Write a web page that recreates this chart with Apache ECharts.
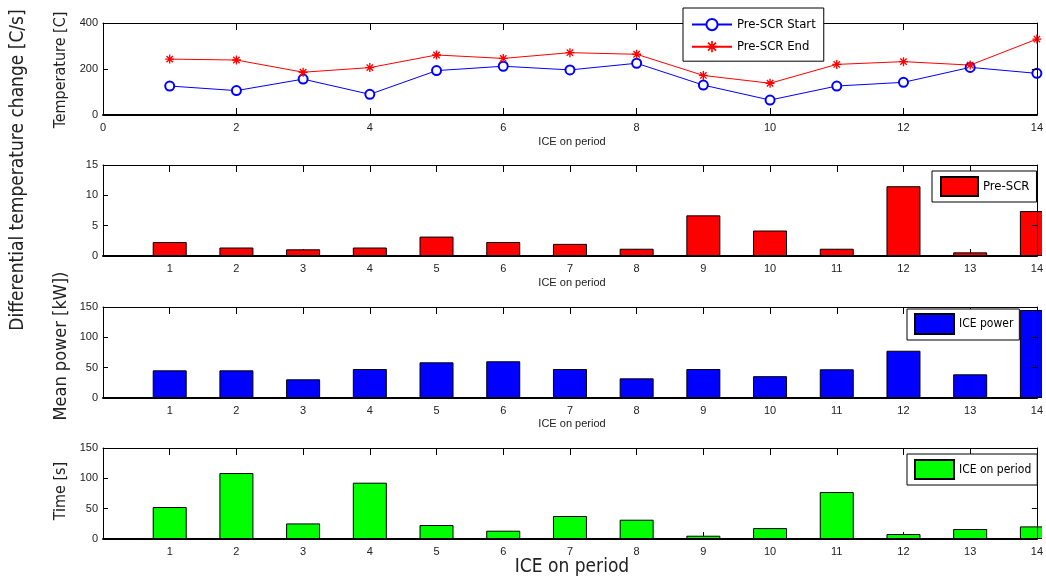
<!DOCTYPE html>
<html>
<head>
<meta charset="utf-8">
<script src="https://cdn.jsdelivr.net/npm/echarts@6/dist/echarts.min.js"></script>
<style>
html,body{margin:0;padding:0;background:#fff;}
#chart{width:1046px;height:579px;}
</style>
</head>
<body>
<div id="chart"></div>
<script>
// ---- data ----
const periods = [1,2,3,4,5,6,7,8,9,10,11,12,13,14];
const preScrStart = [126,106,156,90,193,212,196,225,130,65,126,142,207,181];
const preScrEnd   = [243,239,186,206,261,246,271,264,172,138,220,232,217,330];
const preScrDiff  = [2.3,1.4,1.1,1.4,3.2,2.3,2.0,1.2,6.7,4.2,1.2,11.5,0.6,7.4];
const icePower    = [45.6,45.6,30.8,47.8,58.8,60.5,47.8,32.4,47.8,36,47.3,77.9,39,145];
const iceTime     = [52.7,108.7,25.7,92.8,23,13.7,37.9,31.8,5.4,18,77.4,8.2,16.5,20.8];

const pairs = arr => periods.map((p,i)=>[p, arr[i]]);
const narrow = "'Liberation Sans Narrow','DejaVu Sans Condensed',sans-serif";
const tickFont = "'Liberation Sans',Arial,sans-serif";
const starPath = 'path://M8.5,0 L11.5,0 L11.5,20 L8.5,20 Z M0,8.5 L20,8.5 L20,11.5 L0,11.5 Z M3.94,1.82 L18.18,16.06 L16.06,18.18 L1.82,3.94 Z M16.06,1.82 L18.18,3.94 L3.94,18.18 L1.82,16.06 Z';

const grids = [
  {left:103, right:5, top:23, height:92},
  {left:103, right:5, top:165, height:91},
  {left:103, right:5, top:307, height:91},
  {left:103, right:5, top:448, height:91}
];
const yCfg = [
  {max:400, interval:200},
  {max:15, interval:5},
  {max:150, interval:50},
  {max:150, interval:50}
];

const xAxis = [], yAxis = [];
grids.forEach((g,i)=>{
  const interval = i===0 ? 2 : 1;
  xAxis.push({
    type:'value', gridIndex:i, min:0, max:14, interval:interval, position:'bottom',
    axisLine:{show:true, onZero:false, lineStyle:{color:'#000', width:2}},
    axisTick:{show:true, inside:true, length:7, lineStyle:{color:'#000'}},
    axisLabel:{show:true, margin:7, color:'#222', fontSize:11, fontFamily:tickFont,
      formatter: v => (i===0 ? String(v) : (v===0 ? '' : String(v)))},
    splitLine:{show:false}
  });
  xAxis.push({
    type:'value', gridIndex:i, min:0, max:14, interval:interval, position:'top',
    axisLine:{show:true, onZero:false, lineStyle:{color:'#000', width:1}},
    axisTick:{show:true, inside:true, length:7, lineStyle:{color:'#000'}},
    axisLabel:{show:false}, splitLine:{show:false}
  });
  yAxis.push({
    type:'value', gridIndex:i, min:0, max:yCfg[i].max, interval:yCfg[i].interval, position:'left',
    axisLine:{show:true, onZero:false, lineStyle:{color:'#000', width:1}},
    axisTick:{show:true, inside:true, length:5, lineStyle:{color:'#000'}},
    axisLabel:{show:true, margin:5, color:'#222', fontSize:11, fontFamily:tickFont},
    splitLine:{show:false}
  });
  yAxis.push({
    type:'value', gridIndex:i, min:0, max:yCfg[i].max, interval:yCfg[i].interval, position:'right',
    axisLine:{show:true, onZero:false, lineStyle:{color:'#000', width:1}},
    axisTick:{show:true, inside:true, length:5, lineStyle:{color:'#000'}},
    axisLabel:{show:false}, splitLine:{show:false}, z:10
  });
});

const series = [
  {name:'Pre-SCR Start', type:'line', xAxisIndex:0, yAxisIndex:0, data:pairs(preScrStart),
   symbol:'emptyCircle', symbolSize:9, lineStyle:{color:'#0000ff', width:1},
   itemStyle:{color:'#0000ff', borderColor:'#0000ff', borderWidth:1}},
  {name:'Pre-SCR End', type:'line', xAxisIndex:0, yAxisIndex:0, data:pairs(preScrEnd),
   symbol:starPath, symbolSize:9, lineStyle:{color:'#ff0000', width:1},
   itemStyle:{color:'#ff0000'}},
  {name:'Pre-SCR', type:'bar', xAxisIndex:2, yAxisIndex:2, data:pairs(preScrDiff), barWidth:34, clip:true,
   itemStyle:{color:'#ff0000', borderColor:'#000', borderWidth:1}},
  {name:'ICE power', type:'bar', xAxisIndex:4, yAxisIndex:4, data:pairs(icePower), barWidth:34, clip:true,
   itemStyle:{color:'#0000ff', borderColor:'#000', borderWidth:1}},
  {name:'ICE on period', type:'bar', xAxisIndex:6, yAxisIndex:6, data:pairs(iceTime), barWidth:34, clip:true,
   itemStyle:{color:'#00ff00', borderColor:'#000', borderWidth:1}}
];

const legendBase = {
  orient:'vertical', backgroundColor:'#fff', borderColor:'#000', borderWidth:1, borderRadius:0,
  itemGap:9, selectedMode:false, z:20
};
const lt = (size, w) => ({fontFamily:narrow, fontSize:size, color:'#000', width:w, overflow:'none'});
const legend = [
  Object.assign({}, legendBase, {left:683, top:8, padding:[10,8,8,8], itemWidth:40, itemHeight:14,
    textStyle:lt(13,80), data:['Pre-SCR Start','Pre-SCR End']}),
  Object.assign({}, legendBase, {left:932, top:171, padding:[5,7,5,8], itemWidth:37, itemHeight:19,
    textStyle:lt(13,46), data:[{name:'Pre-SCR', icon:'rect'}]}),
  Object.assign({}, legendBase, {left:907, top:309, padding:[4,6,5,7], itemWidth:39, itemHeight:20,
    textStyle:lt(12,54), data:[{name:'ICE power', icon:'rect'}]}),
  Object.assign({}, legendBase, {left:907, top:454, padding:[5,6,5,7], itemWidth:39, itemHeight:19,
    textStyle:lt(12,70), data:[{name:'ICE on period', icon:'rect'}]})
];

function vText(txt, x, y, size){
  return {type:'text', x:x, y:y, rotation:Math.PI/2,
    style:{text:txt, fill:'#222', font:size+'px '+narrow, textAlign:'center', textVerticalAlign:'middle'}};
}
function hText(txt, x, y, size, fam){
  return {type:'text', x:x, y:y,
    style:{text:txt, fill:'#222', font:size+'px '+fam, textAlign:'center', textVerticalAlign:'middle'}};
}
// white masks right of each bar plot area (clip the half bar at period 14)
const masks = grids.slice(1).map(g => ({type:'rect', shape:{x:1042, y:g.top - 2, width:10, height:g.height + 3},
  style:{fill:'#fff'}, z:5}));

const graphic = masks.concat([
  vText('Differential temperature change [C/s]', 18, 170, 19),
  vText('Temperature [C]', 61, 70, 16),
  vText('Mean power [kW])', 61, 346, 18),
  vText('Time [s]', 61, 491, 16),
  hText('ICE on period', 572, 142, 11, tickFont),
  hText('ICE on period', 572, 283, 11, tickFont),
  hText('ICE on period', 572, 424, 11, tickFont),
  hText('ICE on period', 572, 567, 19, narrow)
]);

const chart = echarts.init(document.getElementById('chart'), null, {renderer:'canvas'});
chart.setOption({
  animation:false,
  backgroundColor:'#fff',
  grid:grids, xAxis:xAxis, yAxis:yAxis, series:series, legend:legend, graphic:graphic
});
</script>
</body>
</html>
